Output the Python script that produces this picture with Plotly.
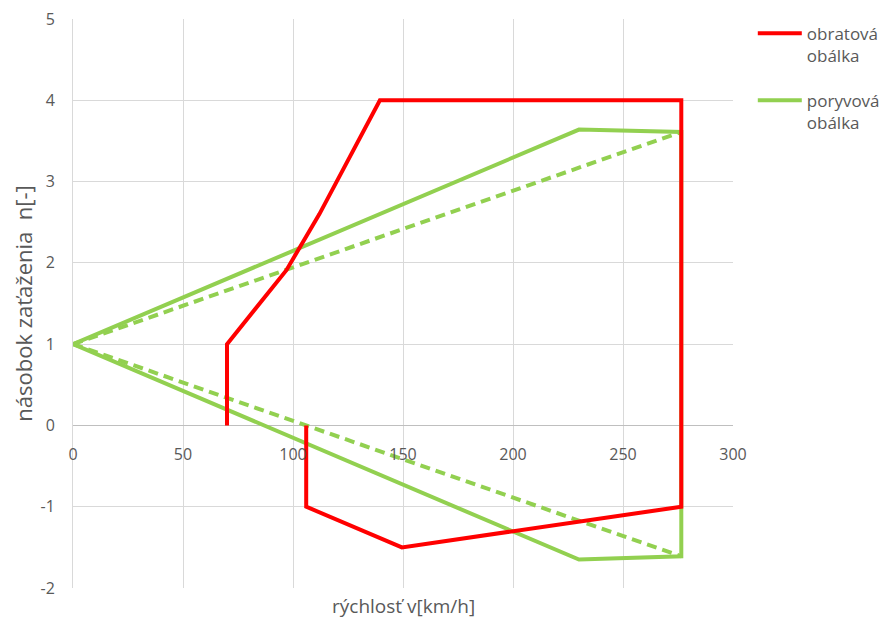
import plotly.graph_objects as go

# Maneuver envelope (obratová obálka)
man_v = [70, 70, 97, 112, 139.5, 276.5, 276.5, 149.5, 106, 106]
man_n = [0, 1, 1.91, 2.6, 4.0, 4.0, -1.0, -1.5, -1.0, 0]

# Gust envelope (poryvová obálka)
gust_v = [0, 230, 276.5, 276.5, 230, 0]
gust_n = [1, 3.64, 3.61, -1.61, -1.65, 1]

# Gust lines (dashed)
gust_dash_v = [0, 276.5, None, 0, 276.5]
gust_dash_n = [1, 3.61, None, 1, -1.61]

x_ticks = [0, 50, 100, 150, 200, 250, 300]
y_ticks = [-2, -1, 0, 1, 2, 3, 4, 5]
y_tick_labels = ["-2", "-1", "0", "1", "2", "3", "4", "5"]

RED = "#FF0000"
GREEN = "#92D050"
TXT = "#595959"
GRID = "#D9D9D9"
FONT = "Open Sans"

fig = go.Figure()
fig.add_trace(go.Scatter(x=gust_dash_v, y=gust_dash_n, mode="lines",
                         line=dict(color=GREEN, width=4, dash="10px,6px"),
                         showlegend=False, hoverinfo="skip"))
fig.add_trace(go.Scatter(x=gust_v, y=gust_n, mode="lines",
                         line=dict(color=GREEN, width=4), legendgroup="b",
                         legendrank=2, name="poryvová<br>obálka"))
fig.add_trace(go.Scatter(x=man_v, y=man_n, mode="lines",
                         line=dict(color=RED, width=4), legendgroup="a",
                         legendrank=1, name="obratová<br>obálka"))

fig.update_layout(
    width=879, height=610,
    margin=dict(l=65, r=154, t=11, b=30, autoexpand=False),
    paper_bgcolor="white", plot_bgcolor="white",
    font=dict(family=FONT, color=TXT, size=16),
    showlegend=True,
    legend=dict(x=1.03, xanchor="left", y=1.006, yanchor="top",
                traceorder="grouped", valign="top",
                font=dict(size=17, color=TXT), itemwidth=44,
                tracegroupgap=20, bgcolor="rgba(0,0,0,0)"),
    xaxis=dict(range=[0, 300], tickvals=x_ticks, showgrid=True, gridcolor=GRID,
               gridwidth=1, zeroline=False, showline=False, anchor="free",
               position=2 / 7, ticks="", ticklabelstandoff=18, automargin=False,
               ticklabeloverflow="allow", tickfont=dict(size=16, color=TXT)),
    yaxis=dict(range=[-2, 5], tickvals=y_ticks, ticktext=y_tick_labels,
               showgrid=True, gridcolor=GRID,
               gridwidth=1, zeroline=True, zerolinecolor="#BFBFBF", zerolinewidth=1,
               showline=True, linecolor=GRID, linewidth=1, ticks="",
               ticklabelstandoff=14, domain=[0, 1], automargin=False,
               ticklabeloverflow="allow", tickfont=dict(size=16, color=TXT),
               title=dict(text="násobok zaťaženia  n[-]", font=dict(size=22, color=TXT),
                          standoff=6)),
)
fig.add_annotation(text="rýchlosť v[km/h]", xref="paper", yref="paper",
                   x=0.5, y=-0.031, xanchor="center", yanchor="middle", showarrow=False,
                   font=dict(size=19, color=TXT, family=FONT))

fig.write_html("out.html")
